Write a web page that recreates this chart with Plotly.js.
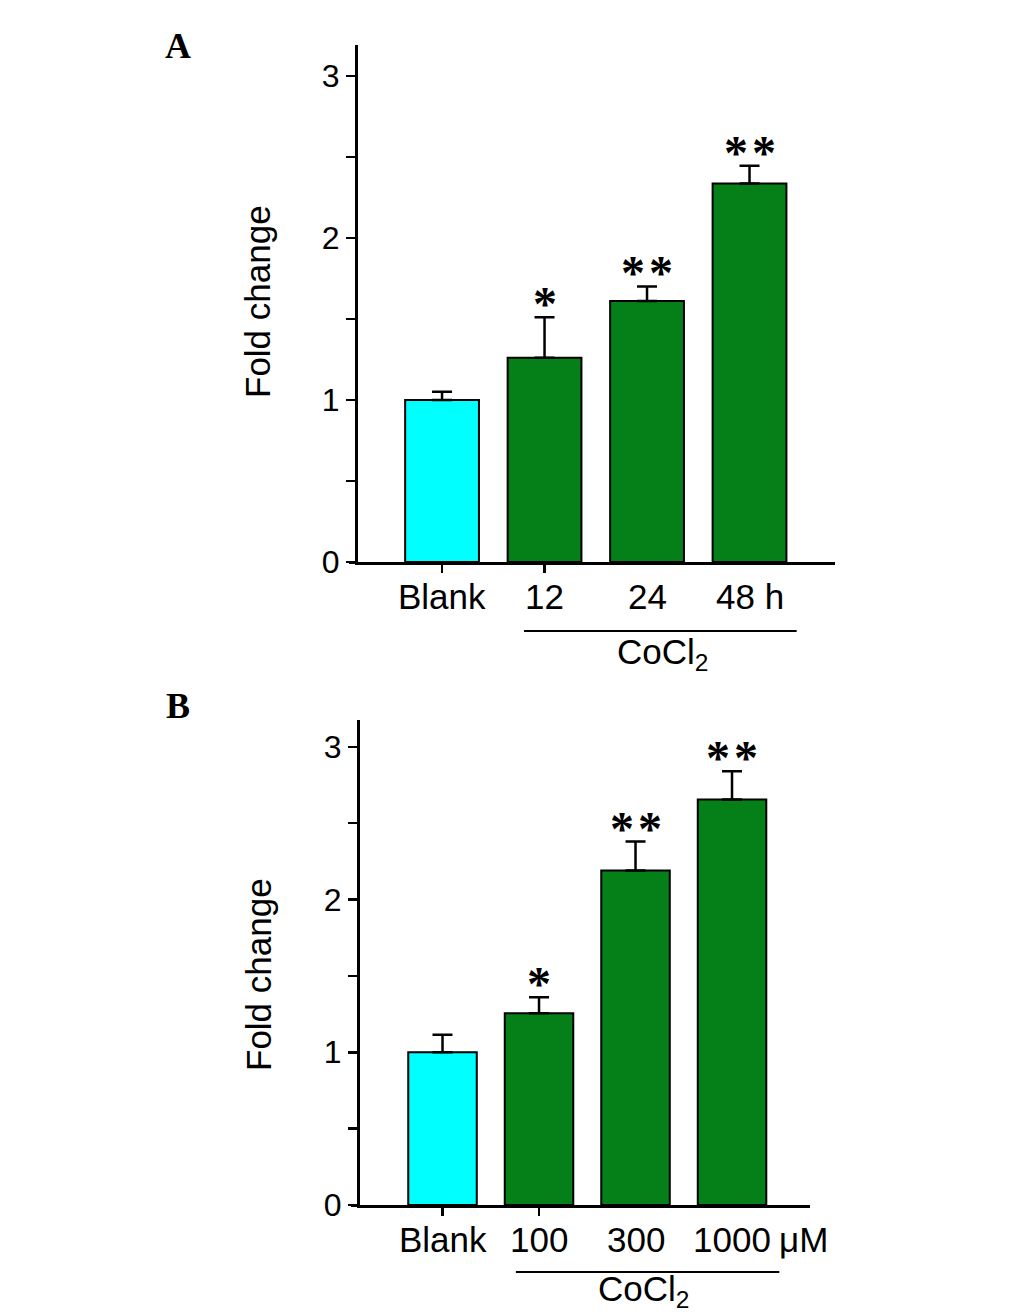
<!DOCTYPE html>
<html>
<head>
<meta charset="utf-8">
<script src="https://cdn.plot.ly/plotly-3.0.1.min.js"></script>
<style>
  html, body { margin: 0; padding: 0; background: #fff; }
  #chart { width: 1033px; height: 1314px; }
</style>
</head>
<body>
<div id="chart"></div>
<script>
// 패널 A: 시간별 (Blank, 12, 24, 48 h)
const labelsA = ["Blank", "12", "24", "48 h"];
const meanA = [1.00, 1.26, 1.61, 2.335];
const errA = [0.05, 0.25, 0.09, 0.11];
const starsA = ["", "*", "**", "**"];

// 패널 B: 농도별 (Blank, 100, 300, 1000 μM)
const labelsB = ["Blank", "100", "300", "1000"];
const unitB = "μM";
const meanB = [1.00, 1.255, 2.19, 2.655];
const errB = [0.115, 0.105, 0.19, 0.185];
const starsB = ["", "*", "**", "**"];

const yTickVals = [0, 0.5, 1, 1.5, 2, 2.5, 3];
const yTickText = ["0", "", "1", "", "2", "", "3"];
const groupLabel = "CoCl<sub>2</sub>";
const yTitle = "Fold change";

const W = 1033, H = 1314;
const CYAN = "#00ffff", GREEN = "#058018";
const FONT = "Liberation Sans, Arial, sans-serif";
const SERIF = "Liberation Serif, Times New Roman, serif";

// 픽셀 -> paper 좌표
const px = (x) => x / W;
const py = (y) => 1 - y / H;

// 각 패널의 위치 (픽셀)
const panels = [
  { key: "", labels: labelsA, mean: meanA, err: errA, stars: starsA, letter: "A",
    left: 358, right: 835, top: 45, bottom: 562, xr: [-0.82, 3.834], yr: [0, 3.19],
    barW: 0.72, line: [0.80, 3.46], lineY: 631, groupX: 2.15, groupY: 654, titleY: 302, letterY: 46 },
  { key: "2", labels: labelsB, mean: meanB, err: errB, stars: starsB, letter: "B",
    left: 360, right: 810, top: 720, bottom: 1205, xr: [-0.855, 3.808], yr: [0, 3.176],
    barW: 0.71, line: [0.76, 3.49], lineY: 1272, groupX: 2.08, groupY: 1291, titleY: 975, letterY: 706 },
];

const traces = [];
const layout = {
  width: W, height: H,
  margin: { l: 0, r: 0, t: 0, b: 0 },
  paper_bgcolor: "#fff", plot_bgcolor: "#fff",
  showlegend: false,
  annotations: [],
  shapes: [],
};

panels.forEach((p) => {
  const xa = "x" + p.key, ya = "y" + p.key;
  const idx = p.labels.map((_, i) => i);
  const toPx = (v) => p.left + (v - p.xr[0]) / (p.xr[1] - p.xr[0]) * (p.right - p.left);

  traces.push({
    type: "bar",
    x: idx, y: p.mean,
    xaxis: xa, yaxis: ya,
    width: p.barW,
    marker: { color: idx.map((i) => (i === 0 ? CYAN : GREEN)), line: { color: "#000", width: 2 } },
    error_y: { type: "data", symmetric: false, array: p.err, arrayminus: p.err.map(() => 0),
               color: "#000", thickness: 2.5, width: 10 },
    hoverinfo: "skip",
  });

  layout["xaxis" + p.key] = {
    domain: [px(p.left), px(p.right)], range: p.xr, anchor: ya,
    tickvals: [0, 1], ticktext: ["", ""], ticks: "outside", ticklen: 8, tickwidth: 2.5, tickcolor: "#000",
    showline: true, linewidth: 3, linecolor: "#000", showgrid: false, zeroline: false, fixedrange: true,
  };
  layout["yaxis" + p.key] = {
    domain: [py(p.bottom), py(p.top)], range: p.yr, anchor: xa,
    tickvals: yTickVals, ticktext: yTickText, ticks: "outside", ticklen: 9, tickwidth: 2.5, tickcolor: "#000",
    tickfont: { family: FONT, size: 32, color: "#000" },
    showline: true, linewidth: 3, linecolor: "#000", showgrid: false, zeroline: false, fixedrange: true,
  };

  // x축 선이 y축 왼쪽으로 조금 튀어나옴
  layout.shapes.push({
    type: "line", xref: "paper", yref: "paper",
    x0: px(p.left - 9), x1: px(p.left), y0: py(p.bottom + 0.5), y1: py(p.bottom + 0.5),
    line: { color: "#000", width: 3 },
  });

  // x 라벨
  p.labels.forEach((t, i) => {
    layout.annotations.push({
      xref: xa, yref: ya, x: i, y: 0, yanchor: "top", xanchor: "center", yshift: -13,
      text: t, showarrow: false, font: { family: FONT, size: 35, color: "#000" },
    });
  });

  // 유의성 별표
  p.stars.forEach((s, i) => {
    if (!s) return;
    layout.annotations.push({
      xref: xa, yref: ya, x: i, y: p.mean[i] + p.err[i], yanchor: "bottom", yshift: -15,
      text: "<b>" + s.split("").join("\u200A") + "</b>", showarrow: false,
      font: { family: SERIF, size: 48, color: "#000" },
    });
  });

  // CoCl2 밑줄 + 라벨
  layout.shapes.push({
    type: "line", xref: "paper", yref: "paper",
    x0: px(toPx(p.line[0])), x1: px(toPx(p.line[1])), y0: py(p.lineY), y1: py(p.lineY),
    line: { color: "#000", width: 2 },
  });
  layout.annotations.push({
    xref: xa, yref: "paper", x: p.groupX, y: py(p.groupY), yanchor: "middle",
    text: groupLabel, showarrow: false, font: { family: FONT, size: 35, color: "#000" },
  });

  // y축 제목
  layout.annotations.push({
    xref: "paper", yref: "paper", x: px(258), y: py(p.titleY), xanchor: "center", yanchor: "middle",
    text: yTitle, textangle: -90, showarrow: false, font: { family: FONT, size: 35, color: "#000" },
  });

  // 패널 문자
  layout.annotations.push({
    xref: "paper", yref: "paper", x: px(178), y: py(p.letterY), xanchor: "center", yanchor: "middle",
    text: "<b>" + p.letter + "</b>", showarrow: false,
    font: { family: SERIF, size: 36, color: "#000" },
  });
});

// B 패널 단위 (μM)
layout.annotations.push({
  xref: "x2", yref: "y2", x: 3, y: 0, yanchor: "top", xanchor: "left", xshift: 45, yshift: -13,
  text: unitB, showarrow: false, font: { family: FONT, size: 35, color: "#000" },
});

Plotly.newPlot("chart", traces, layout, { displayModeBar: false, staticPlot: true });
</script>
</body>
</html>
